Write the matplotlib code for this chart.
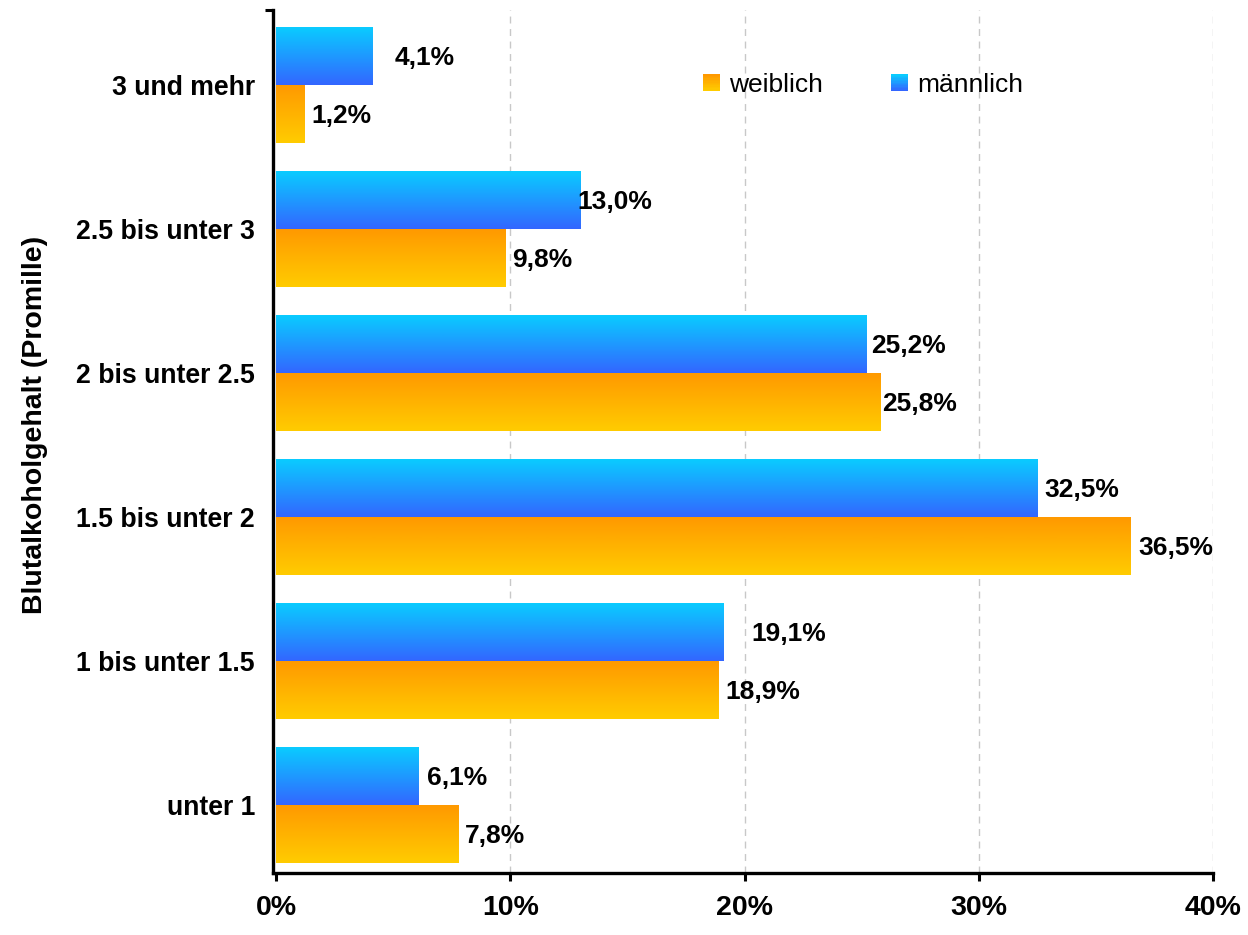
import numpy as np
import matplotlib
matplotlib.use("Agg")
import matplotlib.pyplot as plt
from matplotlib.colors import LinearSegmentedColormap
from matplotlib.legend_handler import HandlerBase
from matplotlib.patches import Rectangle
from matplotlib.transforms import offset_copy

categories = ["unter 1", "1 bis unter 1.5", "1.5 bis unter 2",
              "2 bis unter 2.5", "2.5 bis unter 3", "3 und mehr"]
maennlich = [6.1, 19.1, 32.5, 25.2, 13.0, 4.1]
weiblich = [7.8, 18.9, 36.5, 25.8, 9.8, 1.2]
x_ticks = [0, 10, 20, 30, 40]
x_ticklabels = ["0%", "10%", "20%", "30%", "40%"]
# label offsets (pixels) from bar end, per bar
off_m = [8, 28, 7, 5, -3, 23]
off_w = [6, 7, 7, 2, 7, 7]

plt.rcParams['font.family'] = ['Liberation Sans', 'DejaVu Sans']

blue_top, blue_bot = "#0ACCFF", "#3366FF"
orng_top, orng_bot = "#FF9900", "#FFCC00"

fig = plt.figure(figsize=(12.48, 9.35), dpi=100)
ax = fig.add_axes([273/1248, 1-873/935, (1213-273)/1248, (873-10)/935])

y = np.arange(len(categories))
h = 0.40

def grad_bar(ax, x0, x1, y0, y1, ctop, cbot):
    cmap = LinearSegmentedColormap.from_list("g", [ctop, cbot])
    g = np.linspace(0, 1, 256).reshape(-1, 1)
    ax.imshow(g, cmap=cmap, extent=[x0, x1, y0, y1], origin="upper",
              aspect="auto", zorder=2, interpolation="bilinear")

bars_m = ax.barh(y + h/2, maennlich, height=h, color="none", zorder=2)
bars_w = ax.barh(y - h/2, weiblich, height=h, color="none", zorder=2)
for b in bars_m:
    grad_bar(ax, 0, b.get_width(), b.get_y(), b.get_y()+b.get_height(), blue_top, blue_bot)
for b in bars_w:
    grad_bar(ax, 0, b.get_width(), b.get_y(), b.get_y()+b.get_height(), orng_top, orng_bot)

for i, (v, b) in enumerate(zip(maennlich, bars_m)):
    tr = offset_copy(ax.transData, fig=fig, x=off_m[i], y=-2, units="dots")
    ax.text(v, b.get_y()+b.get_height()/2, f"{v:.1f}%".replace(".", ","),
            transform=tr, ha="left", va="center", fontsize=19, fontweight="bold", zorder=5)
for i, (v, b) in enumerate(zip(weiblich, bars_w)):
    tr = offset_copy(ax.transData, fig=fig, x=off_w[i], y=-2, units="dots")
    ax.text(v, b.get_y()+b.get_height()/2, f"{v:.1f}%".replace(".", ","),
            transform=tr, ha="left", va="center", fontsize=19, fontweight="bold", zorder=5)

ax.set_xlim(-0.13, 40)
ax.set_ylim(-0.472, 5.52)
ax.set_xticks(x_ticks)
ax.set_xticklabels(x_ticklabels, fontsize=20.5, fontweight="bold")
ax.set_yticks(y)
ax.set_yticklabels(categories, fontsize=19.2, fontweight="bold")
ax.tick_params(axis="y", length=0, pad=13)
ax.tick_params(axis="x", length=6, width=2.2, direction="out", pad=10)
ax.set_yticks([5.52], minor=True)
ax.tick_params(axis="y", which="minor", length=6, width=2.2, direction="out")

for xv in x_ticks[1:]:
    ax.axvline(xv, color="#c8c8c8", lw=1.0, ls=(0, (5, 4)), zorder=0)

for s in ["top", "right"]:
    ax.spines[s].set_visible(False)
for s in ["left", "bottom"]:
    ax.spines[s].set_linewidth(2.4)
    ax.spines[s].set_zorder(6)

ax.set_ylabel("Blutalkoholgehalt (Promille)", fontsize=20.5, fontweight="bold", labelpad=0)
ax.yaxis.set_label_coords(-0.2395, 0.519)

class GradHandler(HandlerBase):
    def __init__(self, ctop, cbot):
        super().__init__()
        self.ctop, self.cbot = ctop, cbot
    def create_artists(self, legend, orig_handle, xdescent, ydescent, width, height, fontsize, trans):
        cmap = LinearSegmentedColormap.from_list("g", [self.ctop, self.cbot])
        n = 12
        arts = []
        s = min(width, height)
        x0 = -xdescent + (width - s)
        for k in range(n):
            yy = -ydescent + height - (k+1)*height/n
            r = Rectangle((x0, yy), s, height/n + 0.05, facecolor=cmap(k/(n-1)),
                          edgecolor="none", transform=trans)
            arts.append(r)
        return arts

hw = Rectangle((0, 0), 1, 1)
hm = Rectangle((0, 0), 1, 1)
leg = ax.legend([hw, hm], ["weiblich", "männlich"], ncol=2, frameon=False,
                fontsize=19, loc="center", bbox_to_anchor=(863/1248, 1-85/935),
                bbox_transform=fig.transFigure, handlelength=0.62, handleheight=0.62,
                handletextpad=0.35, columnspacing=2.6,
                handler_map={hw: GradHandler(orng_top, orng_bot), hm: GradHandler(blue_top, blue_bot)})

fig.savefig("out.png", dpi=100)
